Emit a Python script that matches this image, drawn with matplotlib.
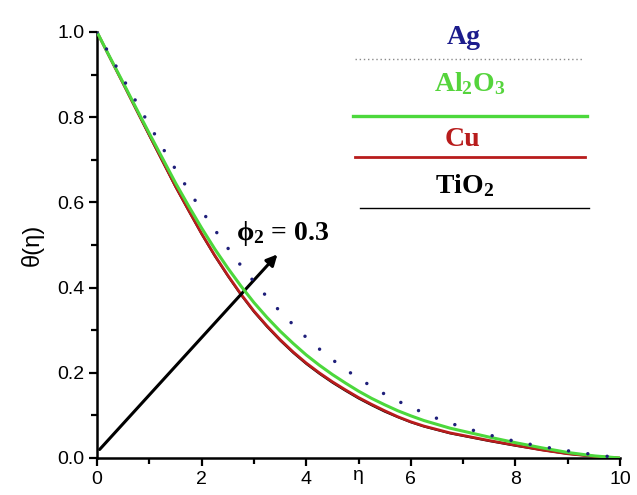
import matplotlib
matplotlib.use('Agg')
import matplotlib.pyplot as plt
from matplotlib.lines import Line2D
from matplotlib.ticker import MultipleLocator

plt.rcParams['font.family'] = ['Liberation Sans', 'DejaVu Sans']
plt.rcParams['mathtext.fontset'] = 'custom'
plt.rcParams['mathtext.rm'] = 'Liberation Serif:bold'
plt.rcParams['mathtext.it'] = 'Liberation Serif:bold'
plt.rcParams['mathtext.bf'] = 'Liberation Serif:bold'

# data
eta = [0, 0.25, 0.5, 0.75, 1, 1.25, 1.5, 1.75, 2, 2.25, 2.5, 2.75, 3, 3.25, 3.5, 3.75,
       4, 4.25, 4.5, 4.75, 5, 5.25, 5.5, 5.75, 6, 6.25, 6.5, 6.75, 7, 7.5, 8, 8.5, 9, 9.5, 10]
theta_ag = [1.0, 0.945, 0.890, 0.836, 0.782, 0.729, 0.678, 0.629, 0.581, 0.536, 0.493,
            0.452, 0.414, 0.378, 0.344, 0.313, 0.283, 0.256, 0.231, 0.208, 0.187, 0.168,
            0.150, 0.134, 0.119, 0.106, 0.093, 0.082, 0.072, 0.054, 0.039, 0.027, 0.017,
            0.008, 0.0]
theta_al2o3 = [1.0, 0.940, 0.881, 0.821, 0.762, 0.704, 0.646, 0.592, 0.540, 0.491, 0.446,
               0.404, 0.365, 0.330, 0.298, 0.269, 0.242, 0.218, 0.196, 0.176, 0.157, 0.140,
               0.125, 0.111, 0.099, 0.088, 0.079, 0.070, 0.063, 0.049, 0.036, 0.024, 0.013,
               0.005, 0.0]
theta_cu = [1.0, 0.939, 0.879, 0.818, 0.758, 0.698, 0.638, 0.582, 0.527, 0.476, 0.429,
            0.385, 0.345, 0.310, 0.278, 0.249, 0.223, 0.200, 0.179, 0.160, 0.142, 0.126,
            0.111, 0.097, 0.085, 0.075, 0.067, 0.059, 0.053, 0.041, 0.030, 0.019, 0.010,
            0.004, 0.0]
theta_tio2 = [1.0, 0.938, 0.877, 0.816, 0.755, 0.695, 0.635, 0.579, 0.524, 0.473, 0.426,
              0.382, 0.342, 0.307, 0.275, 0.246, 0.220, 0.197, 0.176, 0.157, 0.139, 0.123,
              0.108, 0.095, 0.083, 0.073, 0.065, 0.057, 0.051, 0.039, 0.028, 0.018, 0.009,
              0.003, 0.0]

names = ['Ag', r'$\mathrm{Al_2O_3}$', 'Cu', r'$\mathrm{TiO_2}$']
text_colors = ['#1c1c8c', '#55d43c', '#b81c1c', 'black']

W, H = 637, 495
fig = plt.figure(figsize=(W / 100, H / 100), dpi=100)
ax = fig.add_axes([97 / W, 1 - 458 / H, (620 - 97) / W, (458 - 32) / H])

ax.plot(eta, theta_tio2, color='black', lw=1.0, zorder=2)
ax.plot(eta, theta_cu, color='#b81c1c', lw=2.0, zorder=3)
ax.plot(eta, theta_al2o3, color='#4cd83c', lw=2.2, zorder=4)
ax.plot(eta, theta_ag, color='#1f1f7a', lw=2.5, linestyle=(0, (0.01, 5.6)),
        dash_capstyle='round', zorder=5)

ax.set_xlim(0, 10)
ax.set_ylim(0, 1.0)
ax.xaxis.set_major_locator(MultipleLocator(2))
ax.xaxis.set_minor_locator(MultipleLocator(1))
ax.yaxis.set_minor_locator(MultipleLocator(0.1))
ax.set_yticks([0, 0.2, 0.4, 0.6, 0.8, 1.0])
ax.set_yticklabels(['0.0', '0.2', '0.4', '0.6', '0.8', '1.0'])

for s in ['top', 'right']:
    ax.spines[s].set_visible(False)
for s in ['left', 'bottom']:
    ax.spines[s].set_linewidth(1.8)
ax.tick_params(which='major', direction='out', length=6, width=1.6, labelsize=14, pad=3)
ax.tick_params(which='minor', direction='out', length=4, width=1.6)

ax.set_ylabel('θ(η)', fontsize=17, labelpad=10)
ax.text(0.5, -0.021, 'η', transform=ax.transAxes, ha='center', va='top', fontsize=14)

# arrow and phi label
ax.annotate('', xy=(3.45, 0.478), xytext=(0.05, 0.02),
            arrowprops=dict(arrowstyle='-|>', lw=2.2, color='black', mutation_scale=16,
                            shrinkA=0, shrinkB=0))
ax.text(3.55, 0.528, r'$\phi_2$ = 0.3', fontsize=20, ha='center', va='center',
        family=['Liberation Serif'], fontweight='bold')

# hand-made legend, text above each line
def fx(px):
    return px / W

def fy(py):
    return 1 - py / H

leg_text_y = [38, 84, 140, 186]
leg_text_x = [464, 470, 462, 465]
leg_line_y = [58.5, 115.5, 157, 208]
leg_line_x = [(355, 582), (353, 587), (355, 585), (360, 589)]
leg_styles = [dict(color='#8a8a8a', lw=1.0, linestyle=(0, (1, 2))),
              dict(color='#4cd83c', lw=2.4),
              dict(color='#b81c1c', lw=2.0),
              dict(color='black', lw=1.0)]

for i in range(4):
    fig.text(fx(leg_text_x[i]), fy(leg_text_y[i]), names[i], color=text_colors[i],
             fontsize=20, ha='center', va='center', family=['Liberation Serif'],
             fontweight='bold')
    x0, x1 = leg_line_x[i]
    fig.add_artist(Line2D([fx(x0), fx(x1)], [fy(leg_line_y[i]), fy(leg_line_y[i])],
                          transform=fig.transFigure, **leg_styles[i]))

fig.savefig('out.png', dpi=100)
